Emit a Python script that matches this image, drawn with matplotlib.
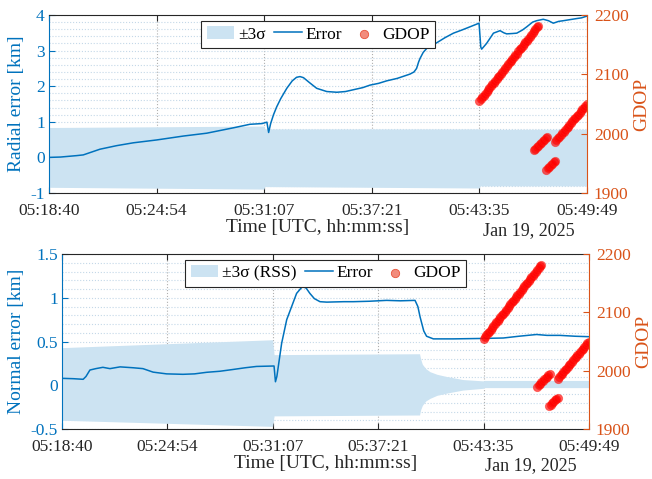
import matplotlib
matplotlib.use("Agg")
import matplotlib.pyplot as plt
from matplotlib.ticker import MultipleLocator

plt.rcParams['font.family'] = ['Liberation Serif', 'DejaVu Serif']

BLUE = '#0072BD'
ORANGE = '#D95319'
FILL = '#cce3f2'

# time axis: seconds after 05:18:40 UTC, Jan 19, 2025
tick_sec = [0, 374, 747, 1121, 1495, 1869]
tick_lbl = ['05:18:40', '05:24:54', '05:31:07', '05:37:21', '05:43:35', '05:49:49']

# ---- radial error ----
rad_t = [0, 40, 96, 119, 177, 235, 293, 374, 467, 548, 640, 698, 740, 757, 763,
         770, 780, 791, 805, 826, 845, 860, 872, 884, 905, 930, 965, 1000, 1030,
         1057, 1090, 1115, 1145, 1173, 1210, 1254, 1268, 1277, 1284, 1289, 1300,
         1312, 1347, 1375, 1405, 1435, 1463, 1494, 1500, 1503, 1520, 1544, 1567,
         1580, 1590, 1610, 1625, 1645, 1660, 1680, 1694, 1717, 1735, 1752, 1770,
         1787, 1810, 1833, 1850, 1869]
rad_err = [0.00, 0.01, 0.05, 0.07, 0.23, 0.33, 0.41, 0.49, 0.60, 0.68, 0.83, 0.93,
           0.95, 0.99, 0.70, 0.95, 1.20, 1.42, 1.65, 1.94, 2.15, 2.25, 2.27, 2.24,
           2.10, 1.94, 1.85, 1.83, 1.85, 1.90, 1.96, 2.03, 2.08, 2.15, 2.22, 2.34,
           2.40, 2.50, 2.68, 2.78, 2.95, 3.06, 3.22, 3.36, 3.49, 3.58, 3.67, 3.77,
           3.10, 3.04, 3.20, 3.49, 3.56, 3.50, 3.47, 3.48, 3.49, 3.58, 3.67, 3.80,
           3.84, 3.88, 3.84, 3.77, 3.82, 3.84, 3.87, 3.90, 3.92, 3.97]
rad_sig_t = [0, 747, 749, 1495, 1497, 1869]
rad_sig_hi = [0.84, 0.88, 0.80, 0.80, 0.79, 0.79]
rad_sig_lo = [-0.84, -0.89, -0.82, -0.86, -0.80, -0.80]

# ---- normal error ----
nor_t = [0, 40, 75, 85, 99, 120, 145, 170, 206, 252, 287, 323, 371, 429, 470,
         513, 560, 606, 650, 690, 752, 757, 762, 779, 797, 832, 853, 866, 879,
         895, 915, 939, 1000, 1033, 1090, 1151, 1200, 1252, 1262, 1270, 1283,
         1293, 1317, 1388, 1493, 1565, 1620, 1683, 1720, 1766, 1820, 1869]
nor_err = [0.079, 0.075, 0.068, 0.10, 0.174, 0.19, 0.205, 0.19, 0.21, 0.20, 0.19,
           0.15, 0.13, 0.125, 0.13, 0.148, 0.16, 0.18, 0.20, 0.215, 0.22, 0.04,
           0.10, 0.48, 0.75, 1.05, 1.13, 1.11, 1.05, 0.99, 0.955, 0.95, 0.955,
           0.955, 0.96, 0.97, 0.965, 0.97, 0.90, 0.78, 0.62, 0.56, 0.53, 0.53,
           0.535, 0.54, 0.56, 0.58, 0.57, 0.57, 0.56, 0.555]
nor_sig_t = [0, 747, 752, 1268, 1272, 1278, 1290, 1305, 1330, 1364, 1422, 1494,
             1497, 1869]
nor_sig_hi = [0.43, 0.52, 0.35, 0.36, 0.30, 0.24, 0.19, 0.155, 0.125, 0.10, 0.065,
              0.05, 0.055, 0.055]
nor_sig_lo = [-0.40, -0.47, -0.35, -0.34, -0.28, -0.23, -0.18, -0.15, -0.115,
              -0.09, -0.055, -0.035, -0.027, -0.027]

# ---- GDOP (same passes in both panels) ----
gd_t = [1495, 1500, 1505, 1510, 1515, 1520, 1525, 1530, 1535, 1540, 1545, 1550,
        1555, 1560, 1565, 1570, 1575, 1580, 1585, 1590, 1595, 1600, 1605, 1610,
        1615, 1620, 1625, 1630, 1635, 1640, 1645, 1650, 1655, 1660, 1665, 1670,
        1675, 1680, 1685, 1690, 1695, 1700,
        1685, 1690, 1695, 1700, 1705, 1710, 1715, 1720, 1725, 1730,
        1728, 1733, 1738, 1743, 1748, 1753, 1758,
        1758, 1763, 1768, 1773, 1778, 1783, 1788, 1793, 1798, 1803, 1808, 1813,
        1818, 1823, 1828, 1833, 1838, 1843, 1848, 1853, 1858, 1863, 1868]
gdop = [2055, 2058, 2061, 2064, 2067, 2070, 2074, 2077, 2080, 2083, 2086, 2089,
        2092, 2095, 2098, 2101, 2104, 2108, 2111, 2114, 2117, 2120, 2123, 2126,
        2129, 2132, 2135, 2139, 2142, 2145, 2148, 2151, 2154, 2157, 2160, 2163,
        2166, 2170, 2173, 2176, 2179, 2182,
        1972, 1975, 1977, 1980, 1982, 1985, 1987, 1990, 1992, 1995,
        1939, 1942, 1944, 1947, 1949, 1952, 1954,
        1986, 1989, 1992, 1995, 1998, 2001, 2003, 2006, 2009, 2012, 2015, 2018,
        2021, 2024, 2027, 2029, 2032, 2035, 2038, 2041, 2044, 2047, 2050]


def panel(rect, t, err, st, shi, slo, ylim, ystep, yminor, ylabel, sig_label,
          date_xy):
    ax = fig.add_axes(rect)
    ax.fill_between(st, slo, shi, color=FILL, lw=0, label=sig_label)
    ax.plot(t, err, color=BLUE, lw=1.1, label='Error')
    ax.set_xlim(0, 1869)
    ax.set_ylim(*ylim)
    ax.set_xticks(tick_sec)
    ax.set_xticklabels(tick_lbl)
    ax.yaxis.set_major_locator(MultipleLocator(ystep))
    ax.yaxis.set_minor_locator(MultipleLocator(yminor))
    ax.yaxis.set_major_formatter(plt.FuncFormatter(lambda v, p: f'{v:g}'))
    ax.tick_params(axis='x', direction='in', top=True, length=4, width=0.8,
                   labelsize=12.5, colors='#262626', pad=7)
    ax.tick_params(axis='y', direction='in', length=4, width=0.8, labelsize=12.5,
                   colors=BLUE, pad=3)
    ax.tick_params(axis='y', which='minor', length=0)
    ax.grid(True, axis='x', ls=':', color='#b0b0b0', lw=0.8)
    ax.grid(True, axis='y', which='both', ls=':', color='#c4d8e8', lw=0.8)
    ax.set_axisbelow(True)
    for s in ('top', 'bottom'):
        ax.spines[s].set_color('#262626')
        ax.spines[s].set_linewidth(0.8)
    ax.spines['left'].set_color(BLUE)
    ax.spines['left'].set_linewidth(0.8)
    ax.spines['right'].set_visible(False)
    ax.set_ylabel(ylabel, color=BLUE, fontsize=14, labelpad=4)
    ax.set_xlabel('Time [UTC, hh:mm:ss]', fontsize=14, color='#262626',
                  labelpad=0)

    axr = ax.twinx()
    axr.scatter(gd_t, gdop, s=36, facecolor=(1, 0, 0, 0.65),
                edgecolor=(1, 0.1, 0.05, 0.5), lw=0.6, label='GDOP')
    axr.set_ylim(1900, 2200)
    axr.set_yticks([1900, 2000, 2100, 2200])
    axr.tick_params(axis='y', direction='in', length=4, width=0.8,
                    labelsize=12.5, colors=ORANGE, pad=5)
    for s in ('left', 'top', 'bottom'):
        axr.spines[s].set_visible(False)
    axr.spines['right'].set_color(ORANGE)
    axr.spines['right'].set_linewidth(0.8)
    axr.set_ylabel('GDOP', color=ORANGE, fontsize=14, labelpad=3)

    h1, l1 = ax.get_legend_handles_labels()
    h2, l2 = axr.get_legend_handles_labels()
    leg = axr.legend(h1 + h2, l1 + l2, loc='upper center', ncol=3,
                     bbox_to_anchor=(0.5, 0.985), fontsize=12.5, frameon=True,
                     fancybox=False, framealpha=1, edgecolor='#262626',
                     borderpad=0.3, handlelength=1.6, handletextpad=0.2,
                     columnspacing=0.5, borderaxespad=0.2)
    leg.get_frame().set_linewidth(0.8)
    leg.legend_handles[2].set_facecolor('#f28c7c')
    leg.legend_handles[2].set_edgecolor('#e8533a')
    fig.text(date_xy[0], date_xy[1], 'Jan 19, 2025', fontsize=13,
             color='#262626', ha='center', va='center')
    return ax, axr


fig = plt.figure(figsize=(6.52, 4.79), dpi=100)

panel([49 / 652, 1 - 193 / 479, 538 / 652, 178 / 479], rad_t, rad_err,
      rad_sig_t, rad_sig_hi, rad_sig_lo, (-1, 4), 1, 0.2,
      'Radial error [km]', '±3σ', (529 / 652, 1 - 231 / 479))

panel([62 / 652, 1 - 429 / 479, 527 / 652, 175 / 479], nor_t, nor_err,
      nor_sig_t, nor_sig_hi, nor_sig_lo, (-0.5, 1.5), 0.5, 0.1,
      'Normal error [km]', '±3σ (RSS)', (531 / 652, 1 - 466 / 479))

fig.savefig('out.png', dpi=100)
